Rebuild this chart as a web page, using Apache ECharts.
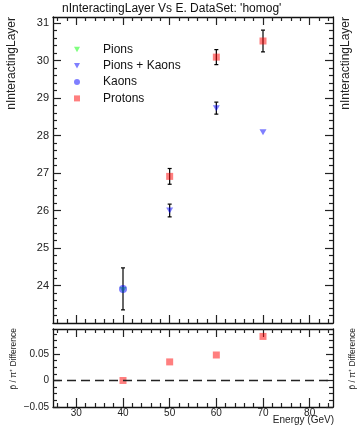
<!DOCTYPE html>
<html>
<head>
<meta charset="utf-8">
<script src="https://cdn.jsdelivr.net/npm/echarts@6/dist/echarts.min.js"></script>
<style>html,body{margin:0;padding:0;background:#fff;}#c{width:357px;height:425px;}</style>
</head>
<body>
<div id="c"></div>
<script>
// ---- data ----
const pionsE = [40];
const pionsVal = [23.88];
const pionsKaonsE = [50, 60, 70];
const pionsKaonsVal = [26.0, 28.73, 28.09];
const pionsKaonsErr = [0.17, 0.16, 0];
const kaonsE = [40];
const kaonsVal = [23.91];
const kaonsErr = [0.56];
const protonsE = [50, 60, 70];
const protonsVal = [26.91, 30.09, 30.52];
const protonsErr = [0.21, 0.2, 0.29];
const ratioE = [40, 50, 60, 70];
const ratioVal = [0.0, 0.035, 0.048, 0.083];

const xMajor = [30, 40, 50, 60, 70, 80];
const yMajor = [24, 25, 26, 27, 28, 29, 30, 31];
const rMajor = [-0.05, 0, 0.05];

// minor tick positions
const xMinor = [];
for (let v = 26; v <= 84; v += 2) if (v % 10 !== 0) xMinor.push(v);
const yMinor = [];
for (let i = 116; i <= 155; i++) { if (i % 5 !== 0) yMinor.push(i / 5); }
const rMinor = [];
for (let i = -3; i <= 7; i++) { if (i % 4 !== 0) rMinor.push(i * 0.0125); }

const XMIN = 25, XMAX = 85, YMIN = 23.0, YMAX = 31.16, RMIN = -0.05, RMAX = 0.097;
const FONT = 'Liberation Sans, Arial, Helvetica, sans-serif';
const INK = '#111';

function pairs(xs, ys) { return xs.map((x, i) => [x, ys[i]]); }
function triples(xs, ys, es) { return xs.map((x, i) => [x, ys[i], es[i]]); }

function xAx(grid, pos, ticks, len, showLine, labels) {
  return {
    type: 'value', gridIndex: grid, position: pos, min: XMIN, max: XMAX,
    axisLine: { show: showLine, onZero: false, lineStyle: { color: INK, width: 1.3 } },
    axisTick: { show: true, inside: true, length: len, customValues: ticks, lineStyle: { color: '#222', width: 1.2 } },
    axisLabel: labels ? { show: true, customValues: ticks, color: '#222', fontSize: 10, fontFamily: FONT, margin: 1 } : { show: false },
    splitLine: { show: false }
  };
}
function yAx(grid, pos, min, max, ticks, len, showLine, labels, fmt) {
  return {
    type: 'value', gridIndex: grid, position: pos, min: min, max: max,
    axisLine: { show: showLine, onZero: false, lineStyle: { color: INK, width: 1.3 } },
    axisTick: { show: true, inside: true, length: len, customValues: ticks, lineStyle: { color: '#222', width: 1.2 } },
    axisLabel: labels ? { show: true, customValues: ticks, color: '#222', fontSize: labels, fontFamily: FONT, margin: 4, formatter: fmt } : { show: false },
    splitLine: { show: false }
  };
}

function errorBar(params, api) {
  const x = api.value(0), y = api.value(1), e = api.value(2);
  if (!(e > 0)) return null;
  const top = api.coord([x, y + e]);
  const bot = api.coord([x, y - e]);
  const cw = 2;
  const style = { stroke: '#000', lineWidth: 1.2 };
  return {
    type: 'group',
    children: [
      { type: 'line', shape: { x1: top[0], y1: top[1], x2: bot[0], y2: bot[1] }, style: style },
      { type: 'line', shape: { x1: top[0] - cw, y1: top[1], x2: top[0] + cw, y2: top[1] }, style: style },
      { type: 'line', shape: { x1: bot[0] - cw, y1: bot[1], x2: bot[0] + cw, y2: bot[1] }, style: style }
    ]
  };
}

const downTri = 'path://M0,0 L10,0 L5,9 Z';
const square = 'path://M0,0 L10,0 L10,10 L0,10 Z';
const cGreen = 'rgba(0,255,0,0.5)';
const cBlue = 'rgba(0,0,255,0.5)';
const cRed = 'rgba(255,0,0,0.5)';

const chart = echarts.init(document.getElementById('c'), null, { renderer: 'canvas' });
chart.setOption({
  animation: false,
  backgroundColor: '#fff',
  textStyle: { fontFamily: FONT },
  title: {
    text: "nInteractingLayer Vs E. DataSet: 'homog'",
    left: 62, top: 1, padding: [2, 0, 0, 0],
    textStyle: { fontSize: 12, fontWeight: 'normal', color: '#111', fontFamily: FONT }
  },
  legend: {
    orient: 'vertical', left: 74, top: 43, padding: 0,
    itemWidth: 6, itemHeight: 6, itemGap: 3.3,
    data: ['Pions', 'Pions + Kaons', 'Kaons', 'Protons'],
    textStyle: { fontSize: 12, color: '#111', fontFamily: FONT, lineHeight: 13, padding: [0, 0, 0, 18] }
  },
  grid: [
    { left: 53, top: 17, width: 280, height: 306 },
    { left: 53, top: 329, width: 280, height: 78 }
  ],
  xAxis: [
    xAx(0, 'bottom', xMajor, 8, true, false),
    xAx(0, 'bottom', xMinor, 4, false, false),
    xAx(0, 'top', xMajor, 8, true, false),
    xAx(0, 'top', xMinor, 4, false, false),
    xAx(1, 'bottom', xMajor, 9, true, true),
    xAx(1, 'bottom', xMinor, 4, false, false),
    xAx(1, 'top', xMajor, 8, true, false),
    xAx(1, 'top', xMinor, 4, false, false)
  ],
  yAxis: [
    yAx(0, 'left', YMIN, YMAX, yMajor, 8, true, 11),
    yAx(0, 'left', YMIN, YMAX, yMinor, 4, false, 0),
    yAx(0, 'right', YMIN, YMAX, yMajor, 8, true, 0),
    yAx(0, 'right', YMIN, YMAX, yMinor, 4, false, 0),
    yAx(1, 'left', RMIN, RMAX, rMajor, 7, true, 10, v => (Math.abs(v) < 1e-9 ? '0' : (v < 0 ? '\u22120.05' : '0.05'))),
    yAx(1, 'left', RMIN, RMAX, rMinor, 4, false, 0),
    yAx(1, 'right', RMIN, RMAX, rMajor, 7, true, 0),
    yAx(1, 'right', RMIN, RMAX, rMinor, 4, false, 0)
  ],
  graphic: [
    { type: 'text', x: 12, y: 17, rotation: Math.PI / 2,
      style: { text: 'nInteractingLayer', fontSize: 12, fontFamily: FONT, fill: '#222', align: 'right', verticalAlign: 'middle' } },
    { type: 'text', x: 346, y: 17, rotation: Math.PI / 2,
      style: { text: 'nInteractingLayer', fontSize: 12, fontFamily: FONT, fill: '#222', align: 'right', verticalAlign: 'middle' } },
    { type: 'text', x: 14, y: 328, rotation: Math.PI / 2,
      style: { text: 'p\u0304 / \u03c0\u207a Difference', fontSize: 8.5, fontFamily: FONT, fill: '#222', align: 'right', verticalAlign: 'middle' } },
    { type: 'text', x: 353, y: 328, rotation: Math.PI / 2,
      style: { text: 'p\u0304 / \u03c0\u207a Difference', fontSize: 8.5, fontFamily: FONT, fill: '#222', align: 'right', verticalAlign: 'middle' } },
    { type: 'text', x: 334, y: 420,
      style: { text: 'Energy (GeV)', fontSize: 10, fontFamily: FONT, fill: '#222', align: 'right', verticalAlign: 'middle' } }
  ],
  series: [
    { type: 'custom', name: 'errPK', xAxisIndex: 0, yAxisIndex: 0, renderItem: errorBar,
      data: triples(pionsKaonsE, pionsKaonsVal, pionsKaonsErr), z: 1 },
    { type: 'custom', name: 'errK', xAxisIndex: 0, yAxisIndex: 0, renderItem: errorBar,
      data: triples(kaonsE, kaonsVal, kaonsErr), z: 1 },
    { type: 'custom', name: 'errP', xAxisIndex: 0, yAxisIndex: 0, renderItem: errorBar,
      data: triples(protonsE, protonsVal, protonsErr), z: 1 },
    { type: 'scatter', name: 'Protons', xAxisIndex: 0, yAxisIndex: 0, symbol: square, symbolSize: 7,
      itemStyle: { color: cRed, opacity: 1 }, data: pairs(protonsE, protonsVal), z: 2 },
    { type: 'scatter', name: 'Pions + Kaons', xAxisIndex: 0, yAxisIndex: 0, symbol: downTri, symbolSize: [7, 6],
      itemStyle: { color: cBlue, opacity: 1 }, data: pairs(pionsKaonsE, pionsKaonsVal), z: 2 },
    { type: 'scatter', name: 'Pions', xAxisIndex: 0, yAxisIndex: 0, symbol: downTri, symbolSize: [7, 6],
      itemStyle: { color: cGreen, opacity: 1 }, data: pairs(pionsE, pionsVal), z: 2 },
    { type: 'scatter', name: 'Kaons', xAxisIndex: 0, yAxisIndex: 0, symbol: 'circle', symbolSize: 8,
      itemStyle: { color: cBlue, opacity: 1 }, data: pairs(kaonsE, kaonsVal), z: 3 },
    { type: 'scatter', name: 'ratio', xAxisIndex: 4, yAxisIndex: 4, symbol: square, symbolSize: 7,
      itemStyle: { color: cRed, opacity: 1 }, data: pairs(ratioE, ratioVal), z: 3,
      markLine: { silent: true, symbol: 'none', label: { show: false },
        lineStyle: { color: '#222', type: [9, 5], width: 1.3 },
        data: [{ yAxis: 0 }] } }
  ]
});
</script>
</body>
</html>
